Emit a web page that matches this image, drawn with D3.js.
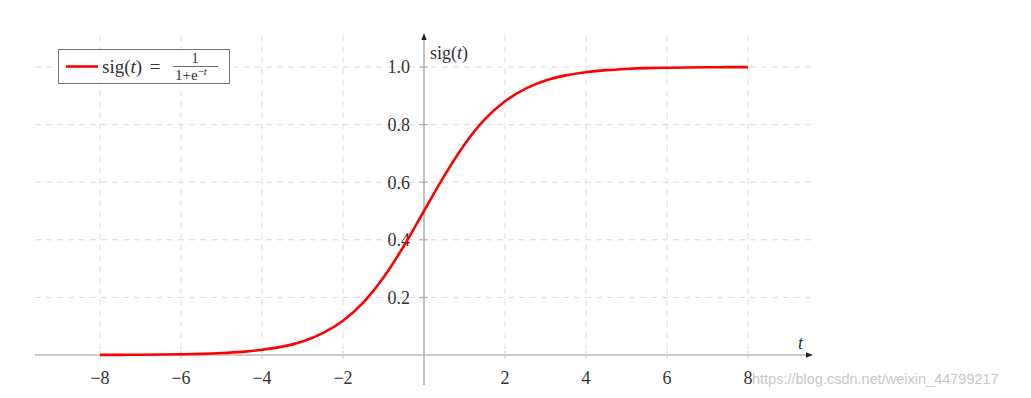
<!DOCTYPE html>
<html>
<head>
<meta charset="utf-8">
<script src="https://cdn.jsdelivr.net/npm/d3@7"></script>
<style>
  body { margin: 0; background: #fff; }
  text { font-family: "Liberation Serif", "DejaVu Serif", serif; fill: #333; }
</style>
</head>
<body>
<svg id="chart" width="1031" height="398"></svg>
<script>
// values
var tValues = [-8, -7.5, -7, -6.5, -6, -5.5, -5, -4.5, -4, -3.5, -3, -2.5, -2, -1.5, -1, -0.5,
               0, 0.5, 1, 1.5, 2, 2.5, 3, 3.5, 4, 4.5, 5, 5.5, 6, 6.5, 7, 7.5, 8];
var sigValues = [0.0003, 0.0006, 0.0009, 0.0015, 0.0025, 0.004, 0.0067, 0.011, 0.018, 0.029, 0.047, 0.076, 0.119, 0.182, 0.269, 0.378,
                 0.5, 0.622, 0.731, 0.818, 0.881, 0.924, 0.953, 0.971, 0.982, 0.989, 0.9933, 0.996, 0.9975, 0.9985, 0.9991, 0.9994, 0.9997];
var xTicks = [-8, -6, -4, -2, 2, 4, 6, 8];
var yTicks = [0.2, 0.4, 0.6, 0.8, 1.0];

var svg = d3.select("#chart");

var x = d3.scaleLinear()
  .domain([-8, 8])
  .range([100, 748]);

var y = d3.scaleLinear()
  .domain([0, 1])
  .range([355, 67]);

var x0 = 35, x1 = 813;

// grid
svg.append("g")
  .selectAll("line")
  .data(yTicks)
  .enter().append("line")
  .attr("x1", x0)
  .attr("x2", x1)
  .attr("y1", function(d){ return y(d); })
  .attr("y2", function(d){ return y(d); })
  .attr("stroke", "#dcdcdc")
  .attr("stroke-dasharray", "6,5");

svg.append("g")
  .selectAll("line")
  .data(xTicks)
  .enter().append("line")
  .attr("x1", function(d){ return x(d); })
  .attr("x2", function(d){ return x(d); })
  .attr("y1", y(1.11))
  .attr("y2", y(0))
  .attr("stroke", "#dcdcdc")
  .attr("stroke-dasharray", "6,5");

// axes
svg.append("defs").append("marker")
  .attr("id", "arrow")
  .attr("viewBox", "0 0 10 10")
  .attr("refX", 9)
  .attr("refY", 5)
  .attr("markerWidth", 6)
  .attr("markerHeight", 6)
  .attr("orient", "auto")
  .append("path")
  .attr("d", "M0,1L10,5L0,9z")
  .attr("fill", "#222");

svg.append("line")
  .attr("x1", x0).attr("x2", x1 - 1)
  .attr("y1", y(0)).attr("y2", y(0))
  .attr("stroke", "#999")
  .attr("stroke-width", 1.2)
  .attr("marker-end", "url(#arrow)");

svg.append("line")
  .attr("x1", x(0)).attr("x2", x(0))
  .attr("y1", 385).attr("y2", 34)
  .attr("stroke", "#999")
  .attr("stroke-width", 1.2)
  .attr("marker-end", "url(#arrow)");

// tick marks + labels
var fmtX = function(d){ return d < 0 ? "\u2212" + Math.abs(d) : String(d); };

var gx = svg.append("g").selectAll("g")
  .data(xTicks)
  .enter().append("g")
  .attr("transform", function(d){ return "translate(" + x(d) + "," + y(0) + ")"; });
gx.append("line").attr("y1", -4).attr("y2", 4).attr("stroke", "#ccc");
gx.append("text")
  .attr("y", 29)
  .attr("text-anchor", "middle")
  .attr("font-size", 18)
  .text(fmtX);

var gy = svg.append("g").selectAll("g")
  .data(yTicks)
  .enter().append("g")
  .attr("transform", function(d){ return "translate(" + x(0) + "," + y(d) + ")"; });
gy.append("line").attr("x1", -5).attr("x2", 4).attr("stroke", "#aaa");
gy.append("text")
  .attr("x", -14)
  .attr("dy", "0.35em")
  .attr("text-anchor", "end")
  .attr("font-size", 18)
  .text(function(d){ return d3.format(".1f")(d); });

// axis labels
svg.append("text")
  .attr("x", 430).attr("y", 59)
  .attr("font-size", 18)
  .html('sig(<tspan font-style="italic">t</tspan>)');

svg.append("text")
  .attr("x", 798).attr("y", 349)
  .attr("font-size", 18)
  .attr("font-style", "italic")
  .text("t");

// curve
var pts = tValues.map(function(t, i){ return [t, sigValues[i]]; });

var line = d3.line()
  .x(function(d){ return x(d[0]); })
  .y(function(d){ return y(d[1]); })
  .curve(d3.curveMonotoneX);

svg.append("path")
  .datum(pts)
  .attr("d", line)
  .attr("fill", "none")
  .attr("stroke", "#ff0000")
  .attr("stroke-width", 2.6);

// legend
var lg = svg.append("g");
lg.append("rect")
  .attr("x", 58.5).attr("y", 49.5)
  .attr("width", 171).attr("height", 34)
  .attr("fill", "#fff")
  .attr("stroke", "#777");
lg.append("line")
  .attr("x1", 66).attr("x2", 98)
  .attr("y1", 66.5).attr("y2", 66.5)
  .attr("stroke", "#ff0000")
  .attr("stroke-width", 2.6);
lg.append("text")
  .attr("x", 102).attr("y", 73)
  .attr("font-size", 19)
  .html('sig(<tspan font-style="italic">t</tspan>) <tspan dx="3">=</tspan>');
lg.append("text")
  .attr("x", 195).attr("y", 63)
  .attr("font-size", 14)
  .attr("text-anchor", "middle")
  .text("1");
lg.append("line")
  .attr("x1", 173).attr("x2", 218)
  .attr("y1", 66.5).attr("y2", 66.5)
  .attr("stroke", "#444")
  .attr("stroke-width", 0.8);
lg.append("text")
  .attr("x", 175).attr("y", 80)
  .attr("font-size", 15)
  .html('1+e<tspan dy="-5" font-size="11">\u2212<tspan font-style="italic">t</tspan></tspan>');

// watermark
svg.append("text")
  .attr("x", 752).attr("y", 384)
  .attr("font-size", 14.5)
  .style("font-family", "'Liberation Sans', Arial, sans-serif")
  .style("fill", "#c8c8c8")
  .text("https://blog.csdn.net/weixin_44799217");
</script>
</body>
</html>
